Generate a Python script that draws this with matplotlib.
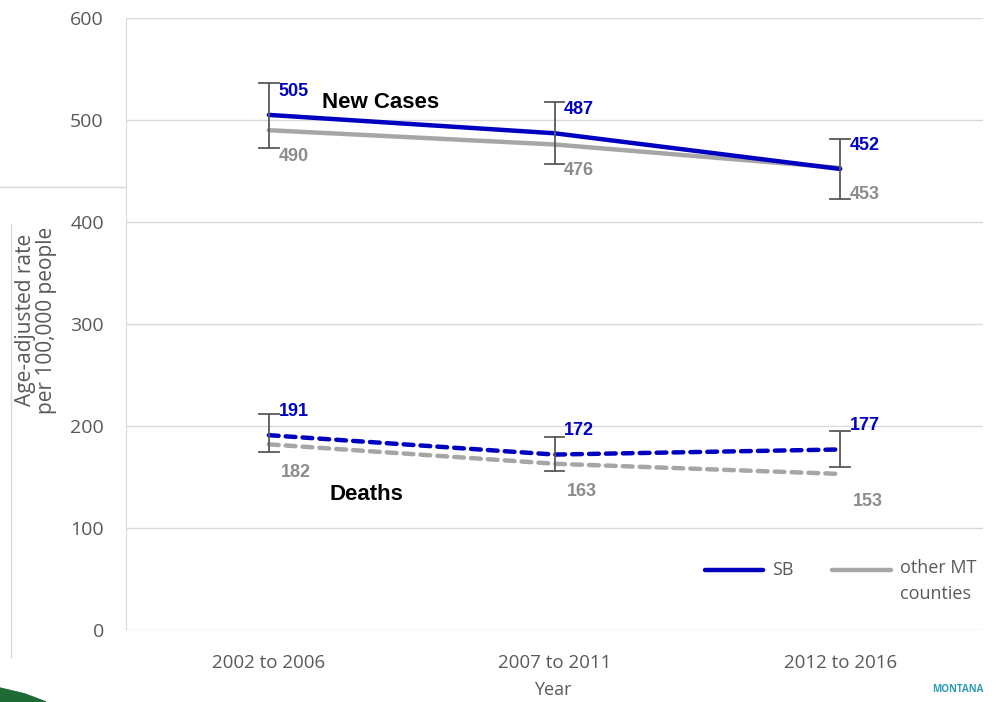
import matplotlib
matplotlib.use("Agg")
import matplotlib.pyplot as plt
from matplotlib.lines import Line2D
from matplotlib.patches import Polygon

categories = ["2002 to 2006", "2007 to 2011", "2012 to 2016"]
sb_cases = [505, 487, 452]
sb_cases_lo = [473, 457, 423]
sb_cases_hi = [536, 518, 481]
mt_cases = [490, 476, 453]
sb_deaths = [191, 172, 177]
sb_deaths_lo = [175, 156, 160]
sb_deaths_hi = [212, 189, 195]
mt_deaths = [182, 163, 153]
series_names = ["SB", "other MT\ncounties"]

BLUE = "#0000C0"
GRAY = "#A6A6A6"
TXT = "#595959"
GRID = "#D9D9D9"

plt.rcParams['font.family'] = ['Open Sans', 'DejaVu Sans']

W, H = 996, 702
fig = plt.figure(figsize=(W / 100, H / 100), dpi=100)
ax = fig.add_axes([126/W, 72/H, (983-126)/W, (630-18)/H])
x = list(range(len(categories)))

ax.set_ylim(0, 600)
ax.set_xlim(-0.5, 2.5)
ax.set_yticks(range(0, 601, 100))
ax.grid(axis='y', color=GRID, lw=1)
ax.set_axisbelow(True)
for s in ['top', 'right', 'bottom']:
    ax.spines[s].set_visible(False)
ax.spines['left'].set_color(GRID)
ax.tick_params(length=0, labelsize=14, colors=TXT)
ax.tick_params(axis='y', pad=16)
ax.tick_params(axis='x', pad=17, labelsize=13.5)
ax.set_xticks(x)
ax.set_xticklabels(categories)

# error bars
def ebars(lo, hi):
    for xi, l, h in zip(x, lo, hi):
        ax.plot([xi, xi], [l, h], color="#595959", lw=1.3, zorder=4)
        for yy in (l, h):
            ax.plot([xi - 0.035, xi + 0.035], [yy, yy], color="#595959", lw=1.3, zorder=4)

ebars(sb_cases_lo, sb_cases_hi)
ebars(sb_deaths_lo, sb_deaths_hi)

ax.plot(x, mt_cases, color=GRAY, lw=3.2, solid_capstyle='round', zorder=3)
ax.plot(x, sb_cases, color=BLUE, lw=3.2, solid_capstyle='round', zorder=3)
ax.plot(x, mt_deaths, color=GRAY, lw=3.2, ls=(0, (2.2, 1.6)), dash_capstyle='round', zorder=3)
ax.plot(x, sb_deaths, color=BLUE, lw=3.2, ls=(0, (2.2, 1.6)), dash_capstyle='round', zorder=3)

def labels(vals, color, dx, dy):
    for xi, v in zip(x, vals):
        ax.annotate(str(v), (xi, v), xytext=(dx, dy), textcoords='offset points',
                    color=color, fontsize=13, fontweight='bold', ha='left', va='center',
                    family=['Liberation Sans', 'DejaVu Sans'])

labels(sb_cases, BLUE, 7, 17)
labels(mt_cases, "#8C8C8C", 7, -19)
labels(sb_deaths, BLUE, 7, 17)
labels(mt_deaths, "#8C8C8C", 9, -20)

ax.text(0.186, 517, "New Cases", fontsize=16, fontweight='bold', color='black', va='center', ha='left',
        family=['Liberation Sans', 'DejaVu Sans'])
ax.text(0.214, 133, "Deaths", fontsize=16, fontweight='bold', color='black', va='center', ha='left',
        family=['Liberation Sans', 'DejaVu Sans'])

fig.text(553/W, 1 - 690/H, "Year", fontsize=13, color=TXT, ha='center', va='center')
fig.text(36/W, 1 - 320/H, "Age-adjusted rate\nper 100,000 people", rotation=90,
         fontsize=15, color=TXT, ha='center', va='center', linespacing=1.0)

# legend (drawn manually to match the layout)
ly = 1 - 570/H
fig.add_artist(Line2D([705/W, 763/W], [ly, ly], color=BLUE, lw=3.2, solid_capstyle='round'))
fig.text(772/W, ly, series_names[0], fontsize=13, color=TXT, ha='left', va='center')
fig.add_artist(Line2D([832/W, 891/W], [ly, ly], color=GRAY, lw=3.2, solid_capstyle='round'))
fig.text(900/W, ly + 11/H, series_names[1], fontsize=13, color=TXT, ha='left', va='top',
         linespacing=1.6)

# slide decorations
fig.add_artist(Line2D([0, 126/W], [1 - 187/H, 1 - 187/H], color=GRID, lw=1))
fig.add_artist(Line2D([11/W, 11/W], [1 - 224/H, 1 - 657/H], color=GRID, lw=1))
fig.add_artist(Polygon([[0, 1 - 688/H], [25/W, 1 - 694/H], [46/W, 0], [0, 0]],
                       closed=True, color="#1E6B35", transform=fig.transFigure))
fig.text(958/W, 1 - 689/H, "MONTANA", fontsize=7, color="#2E9BB5", fontweight='bold',
         ha='center', va='center')

fig.savefig("out.png", dpi=100)
